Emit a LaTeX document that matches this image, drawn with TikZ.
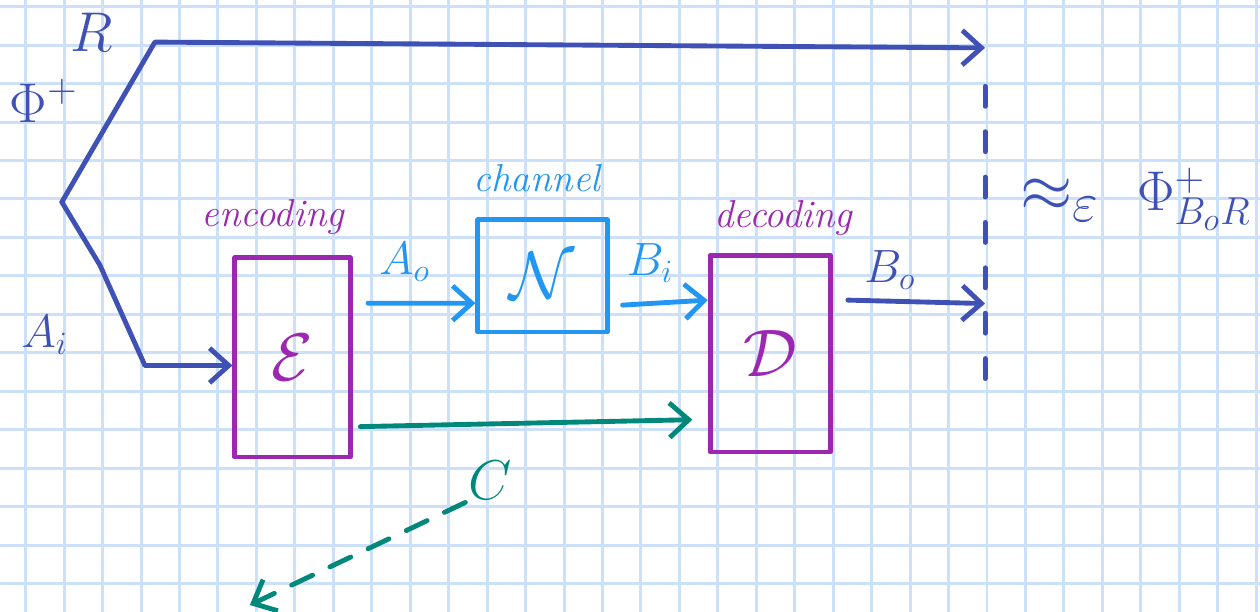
\documentclass[tikz,border=0pt]{standalone}
\usetikzlibrary{arrows.meta}

\definecolor{penblue}{RGB}{63,81,181}
\definecolor{penlight}{RGB}{33,150,243}
\definecolor{penviolet}{RGB}{156,39,176}
\definecolor{penteal}{RGB}{0,137,123}
\definecolor{gridblue}{RGB}{204,224,250}

\begin{document}
\begin{tikzpicture}[x=5mm,y=5mm,
    pen/.style={line width=1.8pt, line cap=round, line join=round},
    barb/.style={-{Straight Barb[length=2.5mm,width=4.5mm]}},
    box/.style={pen, draw=penviolet, text=penviolet, inner sep=0pt},
    lbl/.style={inner sep=1pt}]

    % paper
    \useasboundingbox[fill=white] (-0.668,-0.741) rectangle (32.10,15.175);
    \draw[gridblue, line width=1.1pt, step=5mm] (-0.668,-0.741) grid (32.10,15.175);

    % boxes
    \node[box, minimum width=15mm, minimum height=25.9mm] (enc) at (6.94,5.88) {\Huge $\mathcal{E}$};
    \node[box, draw=penlight, text=penlight, minimum width=16.8mm, minimum height=14.6mm] (chan) at (13.44,8.0) {\Huge $\mathcal{N}$};
    \node[box, minimum width=15.6mm, minimum height=25.6mm] (dec) at (19.36,5.98) {\Huge $\mathcal{D}$};

    \node[lbl, penviolet] (enclabel) at (6.43,9.53) {\Large\itshape encoding};
    \node[lbl, penlight] (chanlabel) at (13.30,10.55) {\Large\itshape channel};
    \node[lbl, penviolet] (declabel) at (19.70,9.50) {\Large\itshape decoding};

    % state and its two halves
    \node[lbl, penblue, anchor=west] (phi) at (-0.50,12.55) {\huge $\Phi^+$};
    \node[lbl, penblue] (rlabel) at (1.72,14.34) {\huge $R$};
    \node[lbl, penblue] (ailabel) at (0.50,6.46) {\LARGE $A_i$};

    \coordinate (split) at (0.94,9.92);
    \coordinate (rbend) at (3.36,14.08);
    \coordinate (abend1) at (1.93,8.28);
    \coordinate (abend2) at (3.10,5.67);
    \coordinate (otop) at (24.95,13.93);
    \coordinate (obot) at (24.95,4.95);
    \coordinate (oB) at (24.95,7.28);

    \draw[pen, penblue, barb] (split) -- (rbend) -- (otop);
    \draw[pen, penblue, barb] (split) -- (abend1) -- (abend2) -- (abend2 -| enc.west);

    % channel uses
    \node[lbl, penlight] (aolabel) at (9.86,8.36) {\LARGE $A_o$};
    \draw[pen, penlight, barb] ([xshift=2mm,yshift=7.05mm]enc.east) -- ([yshift=-3.55mm]chan.west);

    \node[lbl, penlight] (bilabel) at (16.24,8.34) {\LARGE $B_i$};
    \draw[pen, penlight, barb] ([xshift=1.7mm,yshift=-3.8mm]chan.east) -- ([yshift=6.95mm]dec.west);

    \node[lbl, penblue] (bolabel) at (22.48,8.15) {\LARGE $B_o$};
    \draw[pen, penblue, barb] ([xshift=2mm,yshift=6.95mm]dec.east) -- (oB);

    % side channel
    \draw[pen, penteal, barb] ([xshift=1mm,yshift=-9mm]enc.east) -- ([xshift=-2mm,yshift=-8.6mm]dec.west);
    \node[lbl, penteal] (clabel) at (12.08,2.69) {\huge $C$};
    \coordinate (cout) at (5.83,-0.56);
    \draw[pen, penteal, barb, dash pattern=on 3mm off 2.5mm] (clabel.south west) -- (cout);

    % output comparison
    \draw[pen, penblue, dash pattern=on 2.6mm off 3.3mm] ([yshift=-5mm]otop) -- (obot);
    \node[lbl, penblue] (approx) at (26.90,9.97) {\Huge $\approx_{\varepsilon}$};
    \node[lbl, penblue, anchor=east] (target) at (31.95,10.00) {\huge $\Phi^+_{B_oR}$};

\end{tikzpicture}
\end{document}
